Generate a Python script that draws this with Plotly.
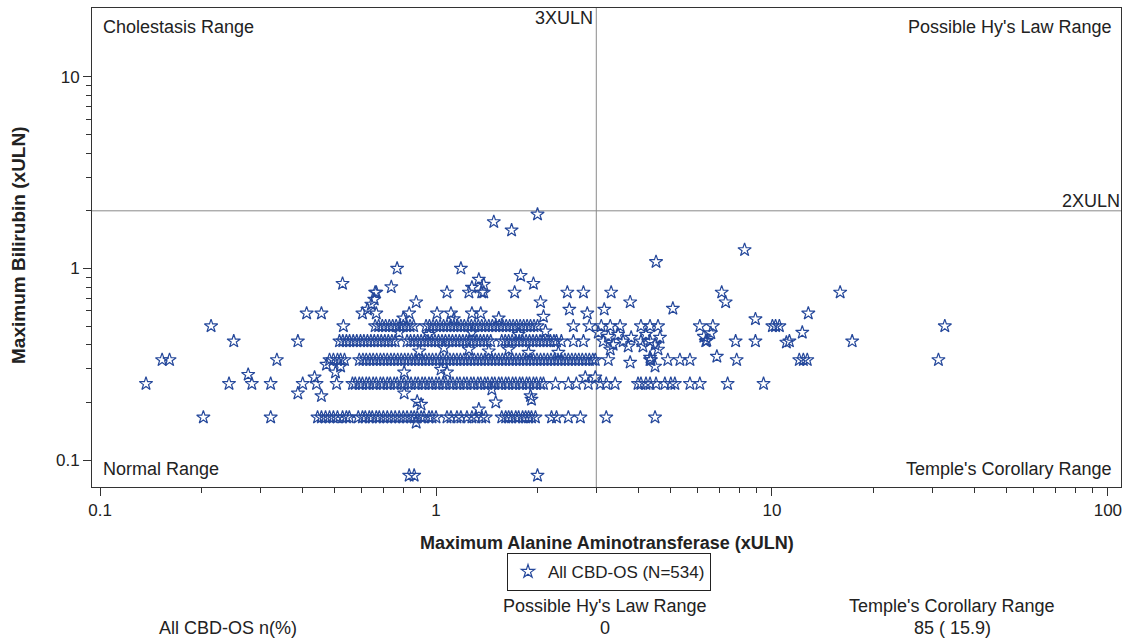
import math
import plotly.graph_objects as go

# ---------------- data ----------------
# Bilirubin (xULN) levels and the ALT (xULN) values of subjects on each level
bili_levels = [0.083, 0.167, 0.25, 0.333, 0.417, 0.5, 0.583, 0.667, 0.75, 0.833, 1.0]

alt_b0083 = [0.832, 0.861, 2.005]
alt_b0167 = [0.203, 0.322, 0.444, 0.456, 0.469, 0.482, 0.495, 0.509, 0.527, 0.541, 0.552,
             0.587, 0.604, 0.616, 0.633, 0.646, 0.664, 0.678, 0.697, 0.716, 0.736, 0.756,
             0.777, 0.799, 0.820, 0.843, 0.861, 0.879, 0.903, 0.921, 0.953, 0.973, 1.0,
             1.078, 1.108, 1.154, 1.186, 1.236, 1.279, 1.314, 1.368, 1.406, 1.569, 1.612,
             1.645, 1.679, 1.727, 1.762, 1.810, 1.848, 1.886, 1.924, 1.977, 2.207, 2.284,
             2.477, 2.690, 3.212, 4.487]
alt_b025 = [0.137, 0.242, 0.283, 0.322, 0.401, 0.441, 0.506, 0.564, 0.575, 0.591, 0.604,
            0.620, 0.633, 0.650, 0.664, 0.683, 0.697, 0.716, 0.731, 0.751, 0.766, 0.788,
            0.804, 0.826, 0.843, 0.867, 0.885, 0.909, 0.928, 0.953, 0.973, 1.0, 1.021,
            1.049, 1.070, 1.100, 1.123, 1.154, 1.178, 1.210, 1.236, 1.270, 1.296, 1.332,
            1.359, 1.397, 1.426, 1.466, 1.496, 1.537, 1.569, 1.612, 1.645, 1.690, 1.727,
            1.774, 1.810, 1.860, 1.898, 1.950, 1.991, 2.047, 2.089, 2.268, 2.477, 2.617,
            2.840, 3.083, 3.212, 3.413, 3.993, 4.074, 4.217, 4.336, 4.518, 4.800, 5.000,
            5.140, 5.700, 6.100, 7.380, 9.440]
alt_b0333 = [0.153, 0.161, 0.336, 0.482, 0.495, 0.509, 0.520, 0.534, 0.591, 0.606, 0.620,
             0.635, 0.650, 0.666, 0.683, 0.699, 0.716, 0.734, 0.751, 0.769, 0.788, 0.807,
             0.826, 0.846, 0.867, 0.888, 0.909, 0.931, 0.953, 0.976, 1.0, 1.024, 1.049,
             1.074, 1.100, 1.127, 1.154, 1.182, 1.210, 1.240, 1.270, 1.300, 1.332, 1.364,
             1.397, 1.431, 1.466, 1.501, 1.537, 1.575, 1.612, 1.651, 1.690, 1.732, 1.774,
             1.817, 1.860, 1.905, 1.950, 1.998, 2.047, 2.096, 2.147, 2.199, 2.252, 2.307,
             2.361, 2.419, 2.477, 2.537, 2.599, 2.661, 2.725, 2.792, 2.860, 2.929, 2.979,
             3.258, 4.336, 4.365, 4.898, 5.321, 5.700, 7.852, 12.06, 12.40, 12.74, 31.3]
alt_b0417 = [0.250, 0.388, 0.516, 0.528, 0.541, 0.553, 0.567, 0.581, 0.596, 0.610, 0.625,
             0.640, 0.655, 0.671, 0.687, 0.704, 0.721, 0.739, 0.756, 0.820, 0.840, 0.861,
             0.882, 0.903, 0.924, 0.947, 0.970, 0.993, 1.017, 1.042, 1.067, 1.093, 1.119,
             1.146, 1.174, 1.202, 1.231, 1.261, 1.291, 1.323, 1.355, 1.387, 1.421, 1.455,
             1.569, 1.607, 1.645, 1.685, 1.727, 1.768, 1.810, 1.854, 1.898, 1.944, 1.991,
             2.040, 2.089, 2.139, 2.191, 2.244, 2.284, 2.361, 2.564, 2.747, 3.146, 3.606,
             4.074, 4.336, 6.353, 7.796, 8.93, 11.27, 17.33]
alt_b05 = [0.214, 0.530, 0.659, 0.675, 0.692, 0.708, 0.726, 0.743, 0.761, 0.780, 0.799,
           0.818, 0.837, 0.858, 0.934, 0.956, 0.980, 1.003, 1.028, 1.053, 1.078, 1.104,
           1.130, 1.158, 1.186, 1.214, 1.244, 1.274, 1.305, 1.336, 1.368, 1.402, 1.436,
           1.471, 1.506, 1.543, 1.580, 1.618, 1.657, 1.697, 1.738, 1.780, 1.823, 1.867,
           1.911, 1.957, 2.005, 2.564, 2.860, 3.104, 3.301, 3.532, 4.074, 4.336, 4.580,
           6.100, 6.668, 10.03, 10.25, 10.52, 32.7]
alt_b0583 = [0.412, 0.456, 0.604, 0.664, 0.832, 1.007, 1.108, 1.279, 1.359, 2.820, 12.83]
alt_b0667 = [0.873, 2.047, 3.784, 7.280]
alt_b075 = [0.659, 0.664, 1.078, 1.253, 1.368, 1.387, 1.714, 2.460, 2.747, 3.322, 7.086, 15.96]
alt_b0833 = [0.527, 1.950]
alt_b1 = [0.766, 1.186]

alt_by_level = [alt_b0083, alt_b0167, alt_b025, alt_b0333, alt_b0417, alt_b05,
                alt_b0583, alt_b0667, alt_b075, alt_b0833, alt_b1]

# subjects not on one of the levels above
alt_other = [0.736, 1.279, 1.341, 1.387, 1.786, 4.518, 8.29, 1.486, 1.679, 2.005,
             0.642, 0.655, 0.625, 2.494, 3.168, 2.089, 5.070, 8.93, 11.04, 12.31,
             6.270, 6.577, 6.397, 3.041, 3.258, 3.367, 3.484, 3.733, 3.810, 3.301,
             4.217, 4.487, 4.642, 4.580, 4.130, 0.276, 0.435, 0.388, 0.456, 0.472,
             0.502, 0.520, 0.804, 1.035, 1.078, 0.804, 0.879, 0.903, 1.506, 1.911,
             1.924, 1.341, 0.873, 1.466, 2.782, 2.979, 4.487, 4.336, 3.784, 6.855,
             1.253, 1.436, 1.645, 1.886, 0.891, 1.056, 2.313, 0.777, 0.953, 1.279,
             1.762, 2.118, 0.799, 1.130, 1.537]
bili_other = [0.800, 0.796, 0.876, 0.825, 0.917, 1.083, 1.25, 1.75, 1.583, 1.917,
              0.649, 0.689, 0.611, 0.611, 0.611, 0.561, 0.618, 0.544, 0.411, 0.463,
              0.441, 0.460, 0.420, 0.463, 0.441, 0.400, 0.452, 0.392, 0.436, 0.378,
              0.452, 0.400, 0.436, 0.378, 0.392, 0.279, 0.270, 0.223, 0.216, 0.315,
              0.287, 0.308, 0.287, 0.297, 0.287, 0.223, 0.202, 0.195, 0.200, 0.216,
              0.207, 0.184, 0.157, 0.234, 0.270, 0.270, 0.308, 0.343, 0.323, 0.347,
              0.378, 0.370, 0.378, 0.364, 0.370, 0.385, 0.364, 0.463, 0.452, 0.463,
              0.452, 0.470, 0.550, 0.545, 0.550]

x_tick_vals = [0.1, 1, 10, 100]
x_tick_text = ["0.1", "1", "10", "100"]
y_tick_vals = [0.1, 1, 10]
y_tick_text = ["0.1", "1", "10"]
alt_ref = 3   # 3XULN
bili_ref = 2  # 2XULN

series_name = "All CBD-OS (N=534)"
table_row_label = "All CBD-OS n(%)"
table_cols = ["Possible Hy's Law Range", "Temple's Corollary Range"]
table_vals = ["0", "85 ( 15.9)"]

# ---------------- build ----------------
alt_all, bili_all = [], []
for lv, arr in zip(bili_levels, alt_by_level):
    alt_all += arr
    bili_all += [lv] * len(arr)
alt_all += alt_other
bili_all += bili_other

FONT = "Arial, 'Liberation Sans', sans-serif"
TXT = "#222222"
BLUE = "#25489B"
X_RANGE = [-1.024, 2.039]
Y_RANGE = [-1.141, 1.36]

W, H = 1135, 639
ML, MR, MT, MB = 92, 14, 8, 152
PW, PH = W - ML - MR, H - MT - MB


def px(X):
    return (X - ML) / PW


def py(Y):
    return (H - MB - Y) / PH


def minor_vals(lo, hi):
    out = []
    for d in range(lo, hi):
        for m in range(2, 10):
            out.append(m * 10 ** d)
    return out


fig = go.Figure()

# reference lines
fig.add_trace(go.Scatter(x=[alt_ref, alt_ref], y=[0.01, 100], mode="lines",
                         line=dict(color="#8a8a8a", width=1), showlegend=False,
                         hoverinfo="skip"))
fig.add_trace(go.Scatter(x=[0.01, 1000], y=[bili_ref, bili_ref], mode="lines",
                         line=dict(color="#8a8a8a", width=1), showlegend=False,
                         hoverinfo="skip"))

fig.add_trace(go.Scatter(
    x=alt_all, y=bili_all, mode="markers", name=series_name,
    marker=dict(symbol="star-open", size=10, color=BLUE, line=dict(color=BLUE, width=1.2)),
))

axis_common = dict(
    type="log", showgrid=False, zeroline=False, showline=True, mirror=True,
    linecolor="#333333", linewidth=1, ticks="outside", ticklen=8, tickwidth=1,
    tickcolor="#333333", tickfont=dict(family=FONT, size=17, color=TXT),
)

fig.update_xaxes(**axis_common, range=X_RANGE, tickmode="array",
                 tickvals=x_tick_vals, ticktext=x_tick_text,
                 minor=dict(tickmode="array", tickvals=minor_vals(-1, 2), ticks="outside",
                            ticklen=5, tickcolor="#333333", showgrid=False))
fig.update_yaxes(**axis_common, range=Y_RANGE, tickmode="array",
                 tickvals=y_tick_vals, ticktext=y_tick_text,
                 minor=dict(tickmode="array", tickvals=minor_vals(-1, 1), ticks="outside",
                            ticklen=5, tickcolor="#333333", showgrid=False))

ann_font = dict(family=FONT, size=18, color=TXT)
x3 = (math.log10(alt_ref) - X_RANGE[0]) / (X_RANGE[1] - X_RANGE[0])
y2 = (math.log10(bili_ref) - Y_RANGE[0]) / (Y_RANGE[1] - Y_RANGE[0])

annotations = [
    dict(text="Cholestasis Range", x=px(101), y=py(27), xanchor="left", yanchor="middle"),
    dict(text="3XULN", x=x3, y=py(18), xanchor="right", yanchor="middle", xshift=-1),
    dict(text="Possible Hy's Law Range", x=px(1114), y=py(27), xanchor="right", yanchor="middle"),
    dict(text="2XULN", x=px(1122), y=y2, xanchor="right", yanchor="bottom", yshift=-2),
    dict(text="Normal Range", x=px(101), y=py(469), xanchor="left", yanchor="middle"),
    dict(text="Temple's Corollary Range", x=px(1114), y=py(469), xanchor="right", yanchor="middle"),
    dict(text="<b>Maximum Alanine Aminotransferase (xULN)</b>", x=px(607), y=py(543),
         xanchor="center", yanchor="middle"),
    dict(text="<b>Maximum Bilirubin (xULN)</b>", x=px(18), y=py(245), textangle=-90,
         xanchor="center", yanchor="middle", font=dict(family=FONT, size=19, color=TXT)),
    dict(text=table_cols[0], x=px(605), y=py(606), xanchor="center", yanchor="middle"),
    dict(text=table_vals[0], x=px(605), y=py(628), xanchor="center", yanchor="middle"),
    dict(text=table_cols[1], x=px(952), y=py(606), xanchor="center", yanchor="middle"),
    dict(text=table_vals[1], x=px(952), y=py(628), xanchor="center", yanchor="middle"),
    dict(text=table_row_label, x=px(228), y=py(628), xanchor="center", yanchor="middle"),
]
for a in annotations:
    a.setdefault("font", ann_font)
    a.update(xref="paper", yref="paper", showarrow=False)

fig.update_layout(
    width=W, height=H, margin=dict(l=ML, r=MR, t=MT, b=MB),
    paper_bgcolor="white", plot_bgcolor="white",
    font=dict(family=FONT, size=17, color=TXT),
    annotations=annotations,
    showlegend=True,
    legend=dict(orientation="h", x=px(609), y=py(572), xanchor="center", yanchor="middle",
                bordercolor="#222222", borderwidth=1, bgcolor="white",
                font=dict(family=FONT, size=17, color=TXT), itemwidth=30,
                tracegroupgap=0),
)

fig.write_html("out.html", config={"displayModeBar": False},
               post_script="document.body.style.margin='0';document.body.style.overflow='hidden';")
